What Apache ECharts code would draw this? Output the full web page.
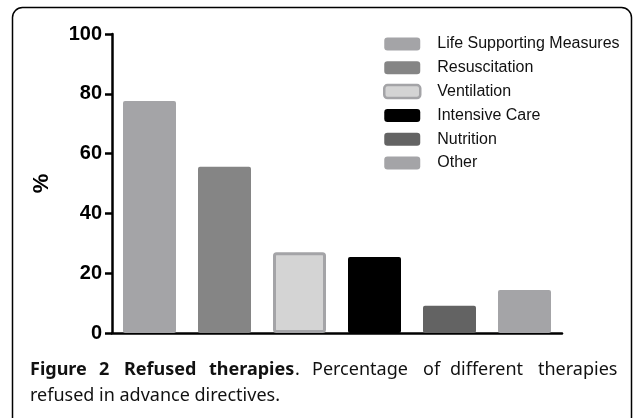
<!DOCTYPE html>
<html>
<head>
<meta charset="utf-8">
<script src="https://cdn.jsdelivr.net/npm/echarts@6/dist/echarts.min.js"></script>
<style>
  html, body { margin: 0; padding: 0; background: #fff; }
  #chart { width: 634px; height: 418px; }
</style>
</head>
<body>
<div id="chart"></div>
<script>
// therapies and percentage refused
var categories = ['Life Supporting Measures', 'Resuscitation', 'Ventilation', 'Intensive Care', 'Nutrition', 'Other'];
var values = [77.6, 55.6, 27, 25.4, 9.1, 14.4];
var colors = ['#a4a4a7', '#858585', '#d4d4d4', '#000000', '#636363', '#a4a4a7'];
var yTicks = [0, 20, 40, 60, 80, 100];

var chart = echarts.init(document.getElementById('chart'));

// one series per therapy so the legend lists them all
var series = categories.map(function (name, i) {
  var data = categories.map(function (c, j) { return j === i ? values[i] : '-'; });
  var style = { color: colors[i], borderRadius: 2 };
  if (name === 'Ventilation') {
    style.borderColor = '#a4a4a7';
    style.borderWidth = 3;
  }
  return {
    name: name,
    type: 'bar',
    stack: 'all',
    barWidth: 53,
    data: data,
    itemStyle: style
  };
});

var captionFont = '"Noto Sans", "Open Sans", sans-serif';
var bold = 'bold 18px ' + captionFont;
var normal = '18px ' + captionFont;

// caption is justified in the original, so words are placed one by one
var caption = [
  ['Figure', 30, bold], ['2', 99, bold], ['Refused', 124, bold], ['therapies', 209, bold],
  ['.', 295, normal], ['Percentage', 312, normal], ['of', 423, normal],
  ['different', 450, normal], ['therapies', 538, normal]
];

var graphics = [
  {
    type: 'rect',
    shape: { x: 12.5, y: 7.5, width: 619, height: 420, r: 10 },
    style: { fill: 'none', stroke: '#000', lineWidth: 1.5 },
    silent: true
  },
  { type: 'text', left: 30, top: 387, style: { text: 'refused in advance directives.', font: normal, fill: '#111' } }
];
caption.forEach(function (w) {
  graphics.push({ type: 'text', left: w[1], top: 361, style: { text: w[0], font: w[2], fill: '#111' } });
});

var option = {
  animation: false,
  grid: { left: 112, right: 72, top: 34, bottom: 85 },
  legend: {
    orient: 'vertical',
    left: 383,
    top: 36,
    padding: 0,
    itemWidth: 36,
    itemHeight: 13,
    itemGap: 7.8,
    icon: 'roundRect',
    textStyle: { fontFamily: '"Liberation Sans", Arial', fontSize: 16, color: '#111', padding: [0, 0, 0, 12] },
    data: categories.map(function (name) {
      if (name === 'Ventilation') {
        return { name: name, itemStyle: { color: '#d4d4d4', borderColor: '#a4a4a7', borderWidth: 2.5 } };
      }
      return name;
    })
  },
  xAxis: {
    type: 'category',
    data: categories,
    axisLine: { lineStyle: { color: '#000', width: 2.5 } },
    axisTick: { alignWithLabel: true, length: 7, lineStyle: { color: '#000', width: 2.5 } },
    axisLabel: { show: false }
  },
  yAxis: {
    type: 'value',
    min: 0,
    max: 100,
    interval: 20,
    name: '%',
    nameLocation: 'middle',
    nameRotate: 90,
    nameGap: 59,
    nameTextStyle: { fontFamily: '"Liberation Sans", Arial', fontWeight: 'bold', fontSize: 22, color: '#000' },
    axisLine: { show: true, lineStyle: { color: '#000', width: 2.5 } },
    axisTick: { show: true, length: 7, lineStyle: { color: '#000', width: 2.5 } },
    axisLabel: {
      fontFamily: '"Liberation Sans", Arial', fontWeight: 'bold', fontSize: 20, color: '#000', margin: 10,
      formatter: function (v) { return yTicks.indexOf(v) >= 0 ? String(v) : ''; }
    },
    splitLine: { show: false }
  },
  series: series,
  graphic: graphics
};

chart.setOption(option);
</script>
</body>
</html>
